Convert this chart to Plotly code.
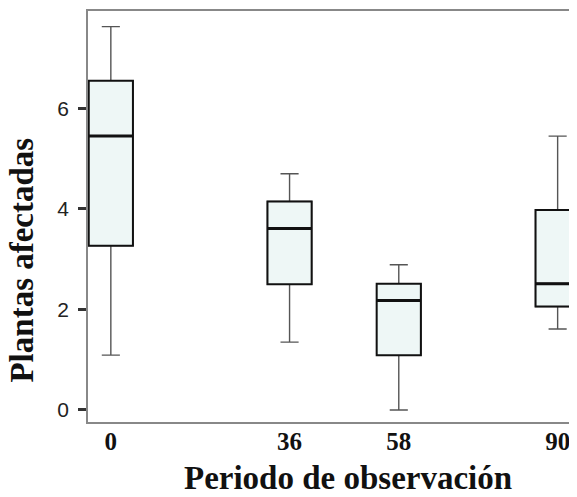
import plotly.graph_objects as go

periods = [0, 36, 58, 90]
lower = [1.09, 1.35, 0.0, 1.61]
q1 = [3.27, 2.50, 1.09, 2.06]
median = [5.45, 3.61, 2.18, 2.51]
q3 = [6.55, 4.15, 2.51, 3.98]
upper = [7.63, 4.70, 2.89, 5.45]
y_ticks = [0, 2, 4, 6]

box_w = 8.9
fill = "#EEF7F6"

fig = go.Figure()
# whiskers (gray)
fig.add_trace(go.Box(
    x=periods, q1=q1, median=median, q3=q3,
    lowerfence=lower, upperfence=upper,
    width=box_w, whiskerwidth=0.41,
    line=dict(color="#555555", width=1.4),
    fillcolor=fill, showlegend=False, hoverinfo="skip",
))
# box body (black)
fig.add_trace(go.Box(
    x=periods, q1=q1, median=median, q3=q3,
    lowerfence=q1, upperfence=q3,
    width=box_w, whiskerwidth=0,
    line=dict(color="#111111", width=2),
    fillcolor=fill, showlegend=False, hoverinfo="skip",
))
# thicker medians
for p, m in zip(periods, median):
    fig.add_trace(go.Scatter(
        x=[p - box_w / 2, p + box_w / 2], y=[m, m], mode="lines",
        line=dict(color="#111111", width=3), showlegend=False, hoverinfo="skip",
    ))

title_font = dict(family="Liberation Serif", size=33, color="#111111")

fig.update_layout(
    width=569, height=489,
    margin=dict(l=80, r=0, t=3, b=75),
    paper_bgcolor="white", plot_bgcolor="white",
    xaxis=dict(
        range=[-4.6, 93.9], tickvals=periods, ticktext=[str(p) for p in periods],
        showgrid=False, zeroline=False, showline=True, linecolor="#888888", linewidth=1.5,
        mirror=True, ticks="", ticklabelstandoff=-4,
        tickfont=dict(family="Liberation Serif", size=25, color="#111111", weight="bold"),
    ),
    yaxis=dict(
        range=[-0.24, 7.94], tickvals=y_ticks,
        showgrid=False, zeroline=False, showline=True, linecolor="#888888", linewidth=1.5,
        ticks="outside", ticklen=8, tickwidth=2.5, tickcolor="#333333",
        ticklabelstandoff=5,
        tickfont=dict(family="Liberation Sans", size=21, color="#222222"),
    ),
    annotations=[
        dict(text="<b>Periodo de observación</b>", xref="paper", yref="paper",
             x=0.532, y=-0.136, xanchor="center", yanchor="middle",
             showarrow=False, font=title_font),
        dict(text="<b>Plantas afectadas</b>", xref="paper", yref="paper",
             x=-0.134, y=0.394, xanchor="center", yanchor="middle", textangle=-90,
             showarrow=False, font=title_font),
    ],
)

fig.write_html("out.html")
